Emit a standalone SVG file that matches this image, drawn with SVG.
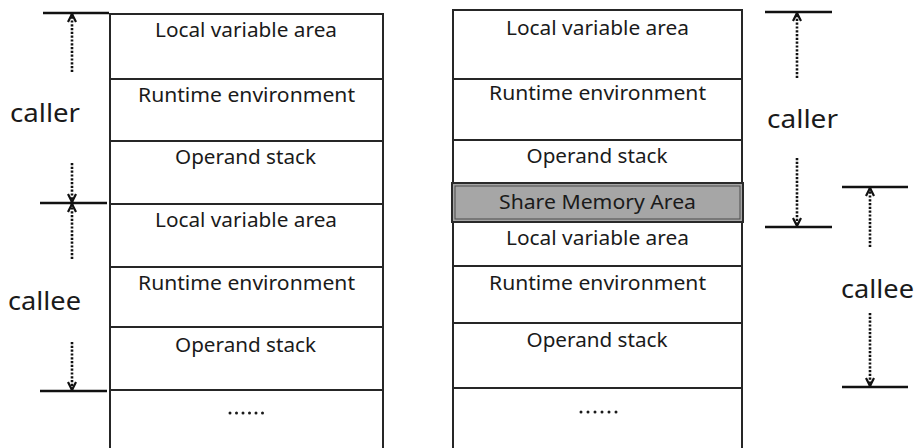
<svg xmlns="http://www.w3.org/2000/svg" width="916" height="448" viewBox="0 0 916 448">
<defs>
<style>
.bg{fill:#ffffff}
.frame{fill:none;stroke:#262626;stroke-width:2}
.row{stroke:#262626;stroke-width:2}
.lbl{font-family:"Noto Sans","Open Sans",sans-serif;font-size:20px;fill:#1a1a1a;text-anchor:middle}
.big{font-family:"Noto Sans","Open Sans",sans-serif;font-size:25px;fill:#1a1a1a}
.bar{stroke:#111;stroke-width:2.5}
.dot{stroke:#111;stroke-width:2.6;stroke-dasharray:2.2 1.6;fill:none}
.dots{fill:#1a1a1a}
</style>
<marker id="arr" viewBox="0 0 10 10" refX="9" refY="5" markerWidth="10" markerHeight="10" markerUnits="userSpaceOnUse" orient="auto">
<path d="M1,1 L9,5 L1,9" fill="none" stroke="#111" stroke-width="2.2" stroke-dasharray="none"/>
</marker>
</defs>
<rect class="bg" x="0" y="0" width="916" height="448"/>

<g id="left-stack">
<path class="frame" d="M110,448 V14 H383 V448"/>
<line class="row" x1="110" y1="79" x2="383" y2="79"/>
<line class="row" x1="110" y1="141" x2="383" y2="141"/>
<line class="row" x1="110" y1="204" x2="383" y2="204"/>
<line class="row" x1="110" y1="267" x2="383" y2="267"/>
<line class="row" x1="110" y1="327" x2="383" y2="327"/>
<line class="row" x1="110" y1="390" x2="383" y2="390"/>
</g>
<g id="l-local1"><text class="lbl" x="246" y="37" textLength="182" lengthAdjust="spacingAndGlyphs">Local variable area</text></g>
<g id="l-runtime1"><text class="lbl" x="246.5" y="102" textLength="217" lengthAdjust="spacingAndGlyphs">Runtime environment</text></g>
<g id="l-operand1"><text class="lbl" x="245.5" y="164" textLength="141" lengthAdjust="spacingAndGlyphs">Operand stack</text></g>
<g id="l-local2"><text class="lbl" x="246" y="227" textLength="182" lengthAdjust="spacingAndGlyphs">Local variable area</text></g>
<g id="l-runtime2"><text class="lbl" x="246.5" y="290" textLength="217" lengthAdjust="spacingAndGlyphs">Runtime environment</text></g>
<g id="l-operand2"><text class="lbl" x="245.5" y="352" textLength="141" lengthAdjust="spacingAndGlyphs">Operand stack</text></g>
<g id="l-more">
<circle class="dots" cx="230" cy="413" r="1.5"/><circle class="dots" cx="236.5" cy="413" r="1.5"/><circle class="dots" cx="243" cy="413" r="1.5"/><circle class="dots" cx="249.5" cy="413" r="1.5"/><circle class="dots" cx="256" cy="413" r="1.5"/><circle class="dots" cx="262.5" cy="413" r="1.5"/>
</g>

<g id="right-stack">
<path class="frame" d="M453,448 V10 H742 V448"/>
<line class="row" x1="453" y1="79" x2="742" y2="79"/>
<line class="row" x1="453" y1="140" x2="742" y2="140"/>
<line class="row" x1="453" y1="266" x2="742" y2="266"/>
<line class="row" x1="453" y1="323" x2="742" y2="323"/>
<line class="row" x1="453" y1="388" x2="742" y2="388"/>
</g>
<g id="r-local1"><text class="lbl" x="597.5" y="35" textLength="183" lengthAdjust="spacingAndGlyphs">Local variable area</text></g>
<g id="r-runtime1"><text class="lbl" x="597.5" y="100" textLength="217" lengthAdjust="spacingAndGlyphs">Runtime environment</text></g>
<g id="r-operand1"><text class="lbl" x="597" y="163" textLength="141" lengthAdjust="spacingAndGlyphs">Operand stack</text></g>
<g id="r-share">
<rect x="452" y="183" width="291" height="39" fill="#a6a6a6" stroke="#2a2a2a" stroke-width="2"/>
<rect x="455" y="186" width="285" height="33" fill="none" stroke="#4a4a4a" stroke-width="1"/>
<text class="lbl" x="597.5" y="209" textLength="197" lengthAdjust="spacingAndGlyphs">Share Memory Area</text>
</g>
<g id="r-local2"><text class="lbl" x="597.5" y="245" textLength="183" lengthAdjust="spacingAndGlyphs">Local variable area</text></g>
<g id="r-runtime2"><text class="lbl" x="597.5" y="290" textLength="217" lengthAdjust="spacingAndGlyphs">Runtime environment</text></g>
<g id="r-operand2"><text class="lbl" x="597" y="347" textLength="141" lengthAdjust="spacingAndGlyphs">Operand stack</text></g>
<g id="r-more">
<circle class="dots" cx="581" cy="412" r="1.5"/><circle class="dots" cx="588" cy="412" r="1.5"/><circle class="dots" cx="595" cy="412" r="1.5"/><circle class="dots" cx="602" cy="412" r="1.5"/><circle class="dots" cx="609" cy="412" r="1.5"/><circle class="dots" cx="616" cy="412" r="1.5"/>
</g>

<g id="l-caller"><text class="big" x="10" y="122" textLength="70" lengthAdjust="spacingAndGlyphs">caller</text></g>
<g id="l-callee"><text class="big" x="8" y="310" textLength="73" lengthAdjust="spacingAndGlyphs">callee</text></g>
<g id="r-caller"><text class="big" x="767" y="128" textLength="71" lengthAdjust="spacingAndGlyphs">caller</text></g>
<g id="r-callee"><text class="big" x="841" y="298" textLength="73" lengthAdjust="spacingAndGlyphs">callee</text></g>

<g id="connectors">
<line class="bar" x1="43" y1="13" x2="109" y2="13"/>
<line class="bar" x1="40" y1="203" x2="107" y2="203"/>
<line class="bar" x1="40" y1="391" x2="107" y2="391"/>
<line class="dot" x1="72" y1="72" x2="72" y2="14" marker-end="url(#arr)"/>
<line class="dot" x1="72" y1="163" x2="72" y2="202" marker-end="url(#arr)"/>
<line class="dot" x1="72" y1="259" x2="72" y2="204" marker-end="url(#arr)"/>
<line class="dot" x1="72" y1="342" x2="72" y2="390" marker-end="url(#arr)"/>

<line class="bar" x1="765" y1="12" x2="832" y2="12"/>
<line class="bar" x1="765" y1="227" x2="832" y2="227"/>
<line class="bar" x1="842" y1="187" x2="908" y2="187"/>
<line class="bar" x1="842" y1="387" x2="908" y2="387"/>
<line class="dot" x1="797" y1="78" x2="797" y2="13" marker-end="url(#arr)"/>
<line class="dot" x1="797" y1="158" x2="797" y2="226" marker-end="url(#arr)"/>
<line class="dot" x1="870" y1="247" x2="870" y2="188" marker-end="url(#arr)"/>
<line class="dot" x1="870" y1="313" x2="870" y2="386" marker-end="url(#arr)"/>
</g>
</svg>
